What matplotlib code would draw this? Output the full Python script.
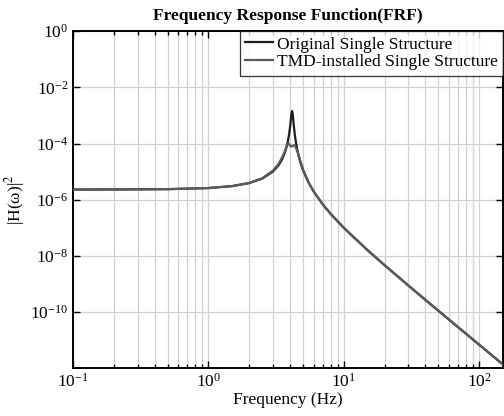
import matplotlib

matplotlib.use("Agg")
import matplotlib.pyplot as plt
from matplotlib.ticker import FixedLocator, LogLocator, NullFormatter, NullLocator

# Frequency points (Hz) and |H(w)|^2 values
freq = [0.1, 0.2, 0.5, 1.0, 1.5, 2.0, 2.5, 3.0, 3.3, 3.5, 3.7, 3.85, 3.95,
        4.03, 4.08, 4.12, 4.15, 4.18, 4.22, 4.27, 4.35, 4.45, 4.6, 4.8, 5.0,
        5.5, 6.0, 7.0, 8.0, 10, 15, 20, 30, 50, 70, 100, 150]
h_original = [2.30e-6, 2.31e-6, 2.37e-6, 2.59e-6, 3.04e-6, 3.90e-6, 5.66e-6,
              1.005e-5, 1.69e-5, 2.72e-5, 5.31e-5, 1.106e-4, 2.23e-4,
              4.83e-4, 8.63e-4, 1.289e-3, 1.44e-3, 1.254e-3, 8.18e-4,
              4.48e-4, 2.00e-4, 9.47e-5, 4.24e-5, 1.98e-5, 1.115e-5,
              4.0e-6, 1.93e-6, 6.75e-7, 3.12e-7, 9.95e-8, 1.58e-8, 4.66e-9,
              8.75e-10, 1.107e-10, 2.86e-11, 6.85e-12, 1.35e-12]

freq_tmd = [0.1, 0.2, 0.5, 1.0, 1.5, 2.0, 2.5, 3.0, 3.3, 3.5, 3.65, 3.75,
            3.82, 3.88, 3.93, 3.98, 4.04, 4.10, 4.17, 4.25, 4.32, 4.40, 4.5,
            4.6, 4.8, 5.0, 5.5, 6.0, 7.0, 8.0, 10, 15, 20, 30, 50, 70, 100, 150]
h_tmd = [2.30e-6, 2.31e-6, 2.37e-6, 2.60e-6, 3.06e-6, 3.95e-6, 5.80e-6,
         1.08e-5, 1.90e-5, 3.20e-5, 5.0e-5, 7.0e-5, 8.8e-5, 1.02e-4, 1.0e-4,
         9.0e-5, 8.0e-5, 7.8e-5, 8.1e-5, 8.6e-5, 8.6e-5, 7.5e-5, 5.8e-5,
         4.4e-5, 2.2e-5, 1.2e-5, 4.1e-6, 1.93e-6, 6.75e-7, 3.12e-7, 9.95e-8,
         1.58e-8, 4.66e-9, 8.75e-10, 1.107e-10, 2.86e-11, 6.85e-12, 1.35e-12]

labels = ["Original Single Structure", "TMD-installed Single Structure"]
y_ticks = [1e0, 1e-2, 1e-4, 1e-6, 1e-8, 1e-10]

plt.rcParams["font.family"] = ["Liberation Serif", "DejaVu Serif"]
plt.rcParams["mathtext.fontset"] = "stix"
plt.rcParams["axes.unicode_minus"] = False

fig = plt.figure(figsize=(5.04, 4.16), dpi=100)
ax = fig.add_axes([0.145, 0.115, 0.853, 0.81])

ax.loglog(freq, h_original, color="#1c1c1c", lw=1.6, label=labels[0], zorder=3)
ax.loglog(freq_tmd, h_tmd, color="#5a5a5a", lw=1.6, label=labels[1], zorder=4)

ax.set_xlim(0.1, 150)
ax.set_ylim(1e-12, 1e0)
ax.yaxis.set_major_locator(FixedLocator(y_ticks))
ax.yaxis.set_minor_locator(NullLocator())
ax.xaxis.set_minor_locator(LogLocator(base=10, subs=range(2, 10)))
ax.xaxis.set_minor_formatter(NullFormatter())

ax.grid(True, which="major", axis="both", color="#d2d2d2", lw=0.9)
ax.grid(True, which="minor", axis="x", color="#d2d2d2", lw=0.9)
ax.set_axisbelow(True)

ax.tick_params(which="both", direction="in", top=True, right=True,
               labelsize=12.5, width=1.0, colors="black")
ax.tick_params(which="major", length=5)
ax.tick_params(which="minor", length=3)
for sp in ax.spines.values():
    sp.set_linewidth(1.4)

ax.set_title("Frequency Response Function(FRF)", fontsize=12.5, fontweight="bold", pad=8)
ax.set_xlabel("Frequency (Hz)", fontsize=12.5, labelpad=1)
ax.set_ylabel(r"|H(ω)|$^2$", fontsize=12.5, labelpad=2)

leg = ax.legend(loc="upper right", fontsize=12.5, frameon=True, fancybox=False,
                borderaxespad=0.0, handlelength=1.6, handletextpad=0.25,
                borderpad=0.3, labelspacing=0.1)
leg.get_frame().set_edgecolor("black")
leg.get_frame().set_linewidth(0.9)

fig.savefig("out.png", dpi=100)
plt.close(fig)
